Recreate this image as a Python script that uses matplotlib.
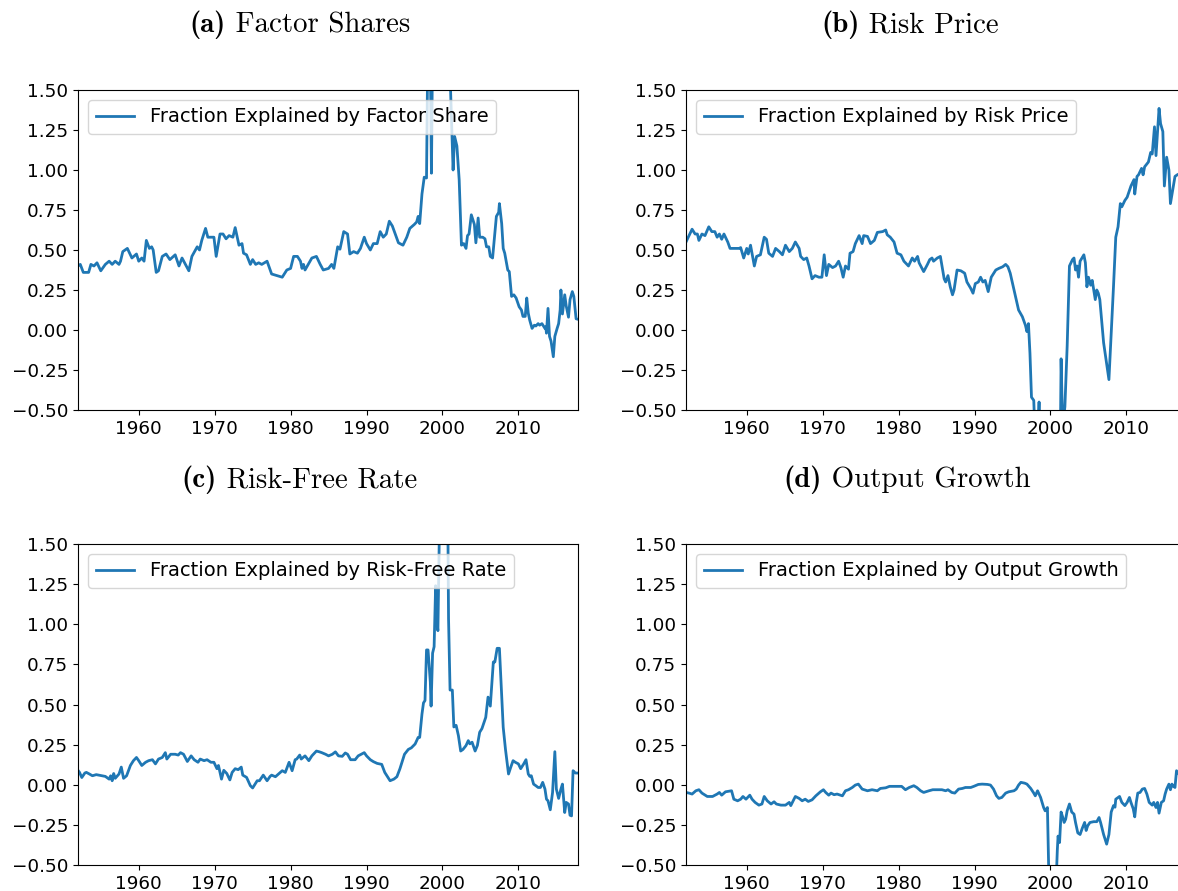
import numpy as np
import matplotlib
matplotlib.use("Agg")
import matplotlib.pyplot as plt

# (a) factor share
yr_a = [1952.0, 1952.3, 1952.7, 1953.4, 1953.7, 1954.1, 1954.5, 1955.0, 1955.6, 1956.1, 1956.5, 1956.9,
        1957.4, 1957.6, 1957.9, 1958.5, 1959.1, 1959.7, 1960.0, 1960.4, 1960.7, 1961.0, 1961.4, 1961.7,
        1961.9, 1962.3, 1962.6, 1963.1, 1963.6, 1964.1, 1964.8, 1965.3, 1965.7, 1966.6, 1967.0, 1967.7,
        1968.0, 1968.3, 1968.8, 1969.1, 1969.9, 1970.2, 1970.7, 1971.1, 1971.5, 1971.9, 1972.4, 1972.7,
        1973.2, 1973.6, 1973.8, 1974.2, 1974.7, 1975.0, 1975.4, 1975.8, 1976.2, 1976.9, 1977.5, 1978.2,
        1978.9, 1979.5, 1980.0, 1980.4, 1980.9, 1981.3, 1981.5, 1981.7, 1981.9, 1982.8, 1983.4, 1983.9,
        1984.3, 1985.0, 1985.4, 1985.7, 1986.2, 1986.5, 1987.0, 1987.5, 1987.8, 1988.3, 1988.8, 1989.2,
        1989.7, 1990.0, 1990.5, 1990.9, 1991.4, 1991.8, 1992.2, 1992.6, 1993.0, 1993.4, 1994.2, 1994.8,
        1995.3, 1995.7, 1996.3, 1996.6, 1996.8, 1997.0, 1997.3, 1997.6, 1997.9, 1998.1, 1998.4, 1998.55,
        1998.7, 1999.2, 1999.8, 2000.3, 2000.8, 2001.0, 2001.4, 2001.6, 2001.9, 2002.2, 2002.5, 2002.8,
        2003.1, 2003.3, 2003.5, 2003.8, 2004.2, 2004.4, 2004.7, 2004.9, 2005.3, 2005.6, 2005.8, 2006.1,
        2006.3, 2006.6, 2007.1, 2007.4, 2007.5, 2007.8, 2008.0, 2008.2, 2008.6, 2008.8, 2009.1, 2009.4,
        2009.7, 2010.1, 2010.4, 2010.6, 2010.9, 2011.1, 2011.3, 2011.5, 2011.8, 2012.1, 2012.3, 2012.6,
        2012.8, 2013.1, 2013.5, 2013.6, 2013.7, 2013.9, 2014.1, 2014.3, 2014.6, 2014.8, 2015.1, 2015.3,
        2015.5, 2015.6, 2015.8, 2016.1, 2016.3, 2016.6, 2016.8, 2017.1, 2017.3, 2017.6, 2017.85]
val_a = [0.40, 0.41, 0.36, 0.36, 0.41, 0.40, 0.42, 0.37, 0.41, 0.43, 0.41, 0.43,
         0.41, 0.43, 0.49, 0.51, 0.45, 0.475, 0.43, 0.45, 0.43, 0.56, 0.51, 0.52,
         0.50, 0.36, 0.37, 0.46, 0.475, 0.44, 0.47, 0.40, 0.45, 0.37, 0.46, 0.52,
         0.50, 0.56, 0.635, 0.58, 0.58, 0.46, 0.60, 0.60, 0.57, 0.59, 0.58, 0.64,
         0.53, 0.54, 0.48, 0.47, 0.41, 0.44, 0.41, 0.42, 0.41, 0.43, 0.35, 0.34,
         0.33, 0.375, 0.385, 0.46, 0.46, 0.43, 0.385, 0.41, 0.375, 0.45, 0.46, 0.41,
         0.375, 0.385, 0.41, 0.385, 0.52, 0.505, 0.615, 0.60, 0.475, 0.49, 0.48, 0.51,
         0.58, 0.54, 0.50, 0.54, 0.54, 0.615, 0.58, 0.60, 0.68, 0.65, 0.545, 0.53,
         0.58, 0.635, 0.66, 0.675, 0.71, 0.665, 0.85, 0.955, 0.95, 1.9, 1.7, 0.98,
         1.8, 2.4, 2.8, 2.6, 2.0, 1.6, 1.00, 1.21, 1.15, 0.94, 0.53, 0.54,
         0.51, 0.59, 0.60, 0.72, 0.66, 0.545, 0.70, 0.58, 0.58, 0.57, 0.52, 0.52,
         0.46, 0.45, 0.71, 0.735, 0.79, 0.665, 0.51, 0.48, 0.375, 0.365, 0.21, 0.22,
         0.20, 0.145, 0.125, 0.085, 0.085, 0.20, 0.105, 0.06, 0.01, 0.03, 0.025, 0.04,
         0.03, 0.04, 0.01, 0.02, -0.02, 0.135, -0.04, -0.07, -0.167, -0.04, 0.01, 0.04,
         0.125, 0.25, 0.10, 0.22, 0.15, 0.08, 0.19, 0.24, 0.21, 0.07, 0.067]

# (b) risk price
yr_b = [1952.0, 1952.3, 1952.8, 1953.2, 1953.5, 1953.7, 1954.1, 1954.5, 1955.0, 1955.4, 1955.8, 1956.1,
        1956.4, 1956.7, 1957.0, 1957.5, 1957.8, 1958.3, 1959.0, 1959.2, 1959.6, 1960.0, 1960.2, 1960.5,
        1961.0, 1961.3, 1961.8, 1962.3, 1962.6, 1962.9, 1963.4, 1963.8, 1964.3, 1964.7, 1965.1, 1965.6,
        1966.0, 1966.4, 1966.9, 1967.1, 1967.5, 1967.9, 1968.2, 1968.6, 1969.0, 1969.5, 1969.9, 1970.2,
        1970.5, 1970.8, 1971.3, 1971.7, 1972.1, 1972.4, 1972.7, 1973.0, 1973.4, 1973.6, 1974.0, 1974.3,
        1974.8, 1975.2, 1975.4, 1975.9, 1976.3, 1976.8, 1977.2, 1977.9, 1978.3, 1978.5, 1978.9, 1979.4,
        1979.8, 1980.3, 1980.7, 1981.1, 1981.3, 1981.8, 1982.1, 1982.5, 1982.7, 1983.3, 1983.8, 1984.1,
        1984.4, 1984.6, 1985.1, 1985.5, 1986.0, 1986.2, 1986.5, 1986.8, 1987.1, 1987.3, 1987.7, 1988.2,
        1988.7, 1989.0, 1989.5, 1989.8, 1990.1, 1990.5, 1990.8, 1991.1, 1991.4, 1991.8, 1992.2, 1992.8,
        1993.2, 1993.7, 1994.1, 1994.4, 1994.7, 1995.2, 1995.5, 1995.8, 1996.3, 1996.7, 1996.9, 1997.1,
        1997.3, 1997.5, 1997.8, 1998.0, 1998.3, 1998.5, 1998.7, 1999.3, 2000.0, 2000.7, 2001.3, 2001.4,
        2001.6, 2001.9, 2002.2, 2002.5, 2002.9, 2003.1, 2003.3, 2003.5, 2003.7, 2003.9, 2004.4, 2004.6,
        2004.8, 2005.0, 2005.3, 2005.5, 2005.9, 2006.1, 2006.3, 2006.5, 2007.0, 2007.4, 2007.7, 2008.0,
        2008.3, 2008.6, 2008.9, 2009.2, 2009.4, 2009.8, 2010.1, 2010.6, 2011.0, 2011.1, 2011.4, 2011.6,
        2011.8, 2012.0, 2012.2, 2012.4, 2012.9, 2013.2, 2013.4, 2013.7, 2013.9, 2014.3, 2014.5, 2014.8,
        2015.0, 2015.3, 2015.6, 2015.8, 2016.1, 2016.4, 2016.7, 2017.1, 2017.5, 2017.85]
val_b = [0.55, 0.58, 0.63, 0.60, 0.60, 0.56, 0.60, 0.59, 0.645, 0.615, 0.615, 0.58,
         0.60, 0.567, 0.60, 0.55, 0.51, 0.51, 0.51, 0.515, 0.45, 0.51, 0.475, 0.53,
         0.40, 0.46, 0.47, 0.58, 0.567, 0.48, 0.46, 0.51, 0.49, 0.47, 0.53, 0.49,
         0.51, 0.55, 0.51, 0.46, 0.44, 0.45, 0.40, 0.32, 0.34, 0.33, 0.33, 0.47,
         0.34, 0.41, 0.39, 0.40, 0.43, 0.39, 0.33, 0.40, 0.38, 0.48, 0.49, 0.54,
         0.59, 0.54, 0.59, 0.585, 0.54, 0.56, 0.61, 0.615, 0.625, 0.595, 0.58, 0.55,
         0.48, 0.47, 0.43, 0.41, 0.40, 0.45, 0.43, 0.46, 0.42, 0.365, 0.41, 0.44,
         0.45, 0.43, 0.45, 0.46, 0.32, 0.30, 0.34, 0.27, 0.22, 0.25, 0.375, 0.37,
         0.355, 0.30, 0.26, 0.23, 0.29, 0.30, 0.33, 0.30, 0.31, 0.24, 0.33, 0.375,
         0.385, 0.395, 0.41, 0.395, 0.355, 0.25, 0.19, 0.125, 0.083, 0.03, -0.01, 0.04,
         -0.146, -0.42, -0.44, -0.70, -0.60, -0.45, -0.65, -0.90, -1.10, -0.95, -0.70, -0.18,
         -0.60, -0.48, -0.10, 0.40, 0.44, 0.45, 0.375, 0.40, 0.33, 0.43, 0.47, 0.42,
         0.27, 0.33, 0.28, 0.31, 0.19, 0.25, 0.23, 0.19, -0.08, -0.21, -0.31, -0.02,
         0.27, 0.58, 0.645, 0.79, 0.77, 0.81, 0.83, 0.90, 0.94, 0.85, 0.96, 0.97,
         0.99, 1.01, 0.97, 1.02, 1.05, 1.11, 1.10, 1.27, 1.09, 1.385, 1.29, 1.24,
         0.90, 1.08, 1.00, 0.79, 0.875, 0.96, 0.97, 0.98, 1.00, 1.01]

# (c) risk-free rate
yr_c = [1952.0, 1952.2, 1952.5, 1952.9, 1953.1, 1953.5, 1953.9, 1954.4, 1955.2, 1955.6, 1956.1, 1956.3,
        1956.5, 1956.7, 1956.9, 1957.4, 1957.7, 1958.0, 1958.4, 1958.9, 1959.3, 1959.7, 1960.0, 1960.4,
        1960.9, 1961.3, 1961.8, 1962.2, 1962.6, 1963.1, 1963.5, 1963.7, 1964.2, 1964.8, 1965.2, 1965.5,
        1965.9, 1966.4, 1966.9, 1967.3, 1967.8, 1968.1, 1968.6, 1969.0, 1969.5, 1969.9, 1970.3, 1970.5,
        1970.9, 1971.2, 1971.6, 1972.0, 1972.3, 1972.7, 1973.1, 1973.5, 1973.7, 1974.2, 1974.7, 1975.0,
        1975.6, 1975.9, 1976.4, 1976.9, 1977.3, 1977.5, 1978.0, 1978.4, 1978.9, 1979.3, 1979.8, 1980.2,
        1980.6, 1980.8, 1981.2, 1981.4, 1981.9, 1982.4, 1982.8, 1983.4, 1983.8, 1984.1, 1984.6, 1985.0,
        1985.5, 1985.9, 1986.3, 1986.8, 1987.2, 1987.5, 1987.9, 1988.5, 1988.9, 1989.7, 1990.0, 1990.5,
        1990.9, 1991.4, 1992.0, 1992.4, 1993.1, 1993.6, 1994.0, 1994.4, 1995.0, 1995.5, 1995.9, 1996.4,
        1996.8, 1997.0, 1997.3, 1997.5, 1997.7, 1997.9, 1998.1, 1998.4, 1998.5, 1998.7, 1998.9, 1999.1,
        1999.3, 1999.4, 1999.6, 2000.0, 2000.4, 2000.7, 2000.8, 2001.0, 2001.3, 2001.5, 2001.8, 2002.1,
        2002.4, 2002.7, 2003.1, 2003.4, 2003.6, 2003.9, 2004.3, 2004.6, 2004.9, 2005.2, 2005.7, 2006.0,
        2006.3, 2006.7, 2006.9, 2007.2, 2007.5, 2008.0, 2008.3, 2008.7, 2009.0, 2009.3, 2009.6, 2010.0,
        2010.3, 2010.7, 2011.0, 2011.3, 2011.5, 2011.7, 2012.0, 2012.3, 2012.6, 2012.9, 2013.2, 2013.5,
        2013.7, 2013.9, 2014.2, 2014.5, 2014.8, 2015.0, 2015.3, 2015.5, 2015.6, 2015.8, 2016.1, 2016.3,
        2016.6, 2016.8, 2017.0, 2017.2, 2017.5, 2017.85]
val_c = [0.09, 0.077, 0.045, 0.073, 0.077, 0.067, 0.056, 0.063, 0.056, 0.052, 0.035, 0.056,
         0.025, 0.07, 0.04, 0.067, 0.11, 0.04, 0.056, 0.12, 0.15, 0.17, 0.15, 0.12,
         0.14, 0.15, 0.156, 0.13, 0.16, 0.17, 0.20, 0.16, 0.19, 0.19, 0.185, 0.20,
         0.19, 0.145, 0.18, 0.156, 0.14, 0.16, 0.15, 0.156, 0.14, 0.14, 0.10, 0.12,
         0.035, 0.09, 0.07, 0.03, 0.077, 0.10, 0.094, 0.11, 0.06, 0.046, -0.006, -0.02,
         0.025, 0.025, 0.06, 0.025, 0.052, 0.06, 0.05, 0.067, 0.0875, 0.077, 0.14, 0.0875,
         0.156, 0.16, 0.185, 0.16, 0.18, 0.15, 0.18, 0.21, 0.205, 0.20, 0.19, 0.18,
         0.19, 0.205, 0.18, 0.177, 0.198, 0.19, 0.156, 0.156, 0.18, 0.20, 0.18, 0.156,
         0.144, 0.133, 0.127, 0.077, 0.025, 0.035, 0.05, 0.10, 0.19, 0.22, 0.23, 0.254,
         0.295, 0.295, 0.44, 0.51, 0.525, 0.84, 0.84, 0.64, 0.49, 0.82, 0.86, 1.24,
         1.00, 0.96, 1.6, 2.4, 2.2, 1.7, 1.035, 0.59, 0.59, 0.36, 0.37, 0.306,
         0.21, 0.22, 0.244, 0.275, 0.255, 0.265, 0.21, 0.245, 0.327, 0.35, 0.42, 0.546,
         0.49, 0.765, 0.765, 0.85, 0.85, 0.358, 0.22, 0.067, 0.11, 0.15, 0.14, 0.13,
         0.10, 0.13, 0.156, 0.067, 0.052, 0.056, 0.004, -0.006, -0.017, -0.017, 0.015, -0.027,
         -0.09, -0.10, -0.156, -0.048, 0.206, -0.027, -0.085, -0.048, -0.027, 0.004, -0.173, -0.11,
         -0.12, -0.19, -0.194, 0.0875, 0.073, 0.073]

# (d) output growth
yr_d = [1952.0, 1952.4, 1952.8, 1953.3, 1953.7, 1954.1, 1954.8, 1955.5, 1956.1, 1956.4, 1956.7, 1957.2,
        1958.0, 1958.3, 1958.8, 1959.2, 1959.5, 1959.9, 1960.4, 1960.7, 1961.1, 1961.6, 1962.0, 1962.3,
        1962.7, 1963.2, 1963.6, 1963.9, 1964.5, 1965.1, 1965.6, 1965.8, 1966.4, 1966.9, 1967.3, 1967.7,
        1968.1, 1968.6, 1969.1, 1969.7, 1970.1, 1970.4, 1970.8, 1971.1, 1971.5, 1971.9, 1972.6, 1973.0,
        1973.4, 1973.9, 1974.3, 1974.7, 1975.2, 1975.9, 1976.5, 1977.2, 1977.6, 1978.3, 1978.8, 1979.4,
        1980.0, 1980.4, 1980.9, 1981.4, 1982.0, 1982.4, 1982.9, 1983.3, 1984.0, 1984.5, 1985.1, 1985.7,
        1986.2, 1986.5, 1987.0, 1987.4, 1987.9, 1988.4, 1988.8, 1989.5, 1989.9, 1990.5, 1991.0, 1991.7,
        1992.1, 1992.5, 1992.9, 1993.2, 1993.6, 1994.1, 1994.5, 1995.2, 1995.5, 1995.8, 1996.1, 1996.6,
        1996.9, 1997.4, 1997.8, 1998.0, 1998.3, 1998.7, 1999.1, 1999.3, 1999.6, 1999.8, 2000.2, 2000.6,
        2000.9, 2001.0, 2001.2, 2001.4, 2001.6, 2001.8, 2002.0, 2002.2, 2002.5, 2002.8, 2003.1, 2003.3,
        2003.6, 2003.9, 2004.2, 2004.5, 2004.7, 2004.9, 2005.2, 2005.7, 2006.1, 2006.4, 2006.6, 2007.0,
        2007.4, 2007.7, 2008.0, 2008.3, 2008.5, 2008.6, 2009.1, 2009.4, 2009.8, 2010.1, 2010.4, 2010.6,
        2010.9, 2011.1, 2011.3, 2011.5, 2011.8, 2012.1, 2012.4, 2012.7, 2013.0, 2013.4, 2013.6, 2013.9,
        2014.1, 2014.3, 2014.6, 2014.9, 2015.1, 2015.3, 2015.6, 2015.8, 2016.0, 2016.2, 2016.4, 2016.6,
        2017.0, 2017.4, 2017.85]
val_d = [-0.048, -0.052, -0.058, -0.0375, -0.031, -0.052, -0.073, -0.073, -0.058, -0.048, -0.065, -0.044,
         -0.0375, -0.09, -0.10, -0.09, -0.073, -0.09, -0.065, -0.09, -0.11, -0.127, -0.12, -0.073,
         -0.10, -0.12, -0.106, -0.12, -0.127, -0.127, -0.11, -0.13, -0.073, -0.085, -0.10, -0.09,
         -0.104, -0.094, -0.069, -0.044, -0.031, -0.048, -0.065, -0.052, -0.062, -0.058, -0.069, -0.0375,
         -0.031, -0.017, -0.002, 0.004, -0.027, -0.0375, -0.031, -0.0375, -0.023, -0.019, -0.010, -0.010,
         -0.010, -0.010, -0.031, -0.017, -0.006, -0.017, -0.0375, -0.048, -0.0375, -0.031, -0.031, -0.031,
         -0.0375, -0.031, -0.048, -0.052, -0.027, -0.023, -0.017, -0.017, -0.010, 0.002, 0.004, 0.002,
         -0.002, -0.027, -0.069, -0.085, -0.079, -0.052, -0.044, -0.0375, -0.027, -0.002, 0.015, 0.010,
         0.004, -0.023, -0.052, -0.069, -0.0375, -0.079, -0.142, -0.1625, -0.142, -0.6, -0.9, -0.8,
         -0.41, -0.32, -0.36, -0.17, -0.20, -0.235, -0.215, -0.1625, -0.12, -0.17, -0.183, -0.235,
         -0.30, -0.31, -0.27, -0.235, -0.285, -0.256, -0.235, -0.23, -0.23, -0.204, -0.235, -0.31,
         -0.37, -0.31, -0.17, -0.13, -0.14, -0.09, -0.073, -0.11, -0.13, -0.11, -0.079, -0.11,
         -0.15, -0.20, -0.11, -0.052, -0.048, -0.027, -0.023, -0.058, -0.11, -0.127, -0.11, -0.142,
         -0.11, -0.177, -0.11, -0.10, -0.058, -0.027, 0.004, -0.031, 0.004, -0.010, -0.017, 0.0875,
         0.06, 0.07, 0.08]

tags = ["(a)", "(b)", "(c)", "(d)"]
titles = ["Factor Shares", "Risk Price", "Risk-Free Rate", "Output Growth"]
labels = ["Fraction Explained by Factor Share", "Fraction Explained by Risk Price",
          "Fraction Explained by Risk-Free Rate", "Fraction Explained by Output Growth"]
series = [(yr_a, val_a), (yr_b, val_b), (yr_c, val_c), (yr_d, val_d)]

fig = plt.figure(figsize=(11.78, 8.91), dpi=100)
W, H = 1178.0, 891.0
# axes boxes in pixels: left, top, right, bottom (right-hand panels run past the edge)
boxes = [(78, 90, 578, 410), (686, 90, 1186, 410), (78, 544, 578, 865), (686, 544, 1186, 865)]
title_pos = [(300, 25), (910, 25), (299, 480), (907, 480)]
renderer = fig.canvas.get_renderer()

for i, (x, y) in enumerate(series):
    l, t, r, b = boxes[i]
    ax = fig.add_axes([l / W, 1 - b / H, (r - l) / W, (b - t) / H])
    ax.plot(x, y, color="#1f77b4", lw=2, label=labels[i])
    ax.set_xlim(1952, 2017.85)
    ax.set_ylim(-0.5, 1.5)
    ax.set_yticks(np.arange(-0.5, 1.51, 0.25))
    ax.set_xticks([1960, 1970, 1980, 1990, 2000, 2010])
    ax.tick_params(labelsize=13.2)
    ax.legend(loc="upper left", fontsize=14)

    # subfigure caption: bold tag + roman title, centred as a group
    tx, ty = title_pos[i]
    t1 = fig.text(0, 1 - ty / H, tags[i], ha="left", va="center", fontsize=20.8, family="cmb10")
    t2 = fig.text(0, 1 - ty / H, " " + titles[i], ha="left", va="center", fontsize=20.8, family="cmr10")
    w1 = t1.get_window_extent(renderer).width
    w2 = t2.get_window_extent(renderer).width
    x0 = tx - (w1 + w2) / 2
    t1.set_x(x0 / W)
    t2.set_x((x0 + w1) / W)

fig.savefig("out.png", dpi=100)
